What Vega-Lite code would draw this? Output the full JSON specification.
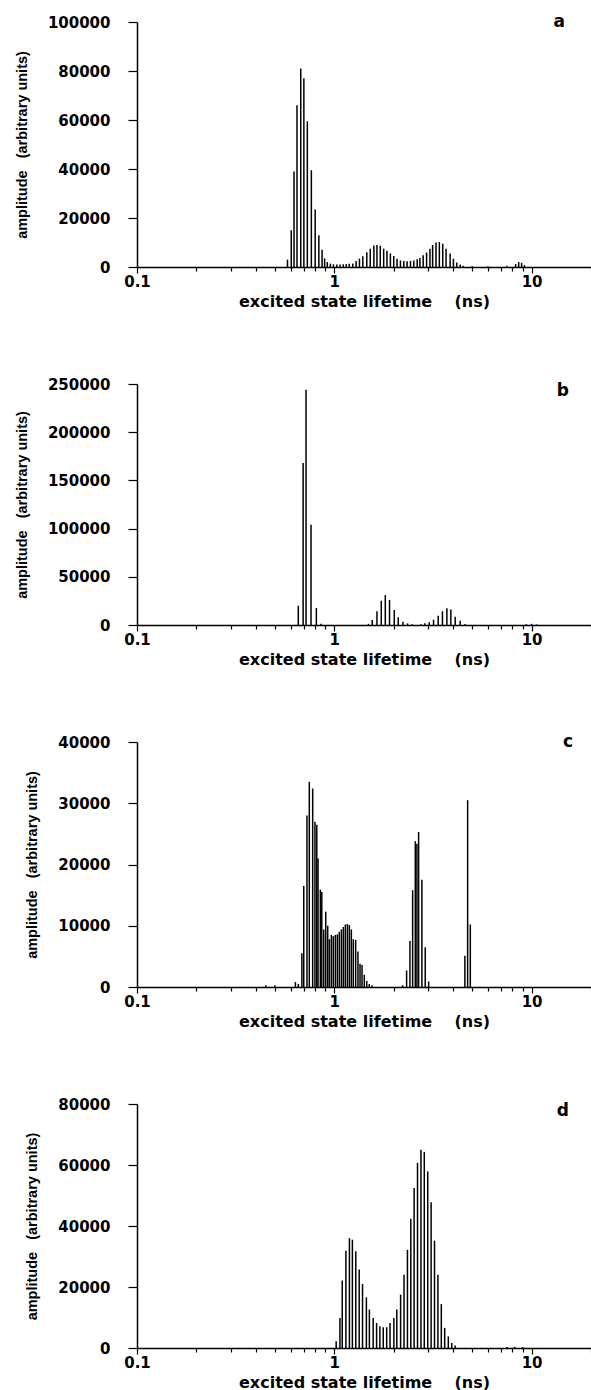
{
  "$schema": "https://vega.github.io/schema/vega-lite/v6.json",
  "background": "white",
  "autosize": {"type": "pad"},
  "padding": {"left": 14, "top": 13, "right": 0, "bottom": 0},
  "bounds": "flush",
  "spacing": 117,
  "config": {
    "view": {"stroke": null},
    "axis": {
      "grid": false,
      "domainColor": "black",
      "domainWidth": 1.5,
      "tickColor": "black",
      "tickWidth": 1.2,
      "labelFont": "DejaVu Sans",
      "labelFontWeight": "bold",
      "labelFontSize": 15,
      "labelColor": "black",
      "titleFont": "DejaVu Sans",
      "titleFontWeight": "bold",
      "titleFontSize": 16,
      "titleColor": "black"
    },
    "axisX": {"labelPadding": 1, "titlePadding": 4, "labelFlush": false, "labelOverlap": false},
    "axisY": {"tickSize": 9, "labelPadding": 18, "titleFont": "Liberation Sans", "titleFontSize": 14.5, "titlePadding": 18, "labelOverlap": false},
    "title": {"font": "DejaVu Sans", "fontWeight": "bold", "fontSize": 17, "color": "black", "anchor": "end", "frame": "group", "dx": -26, "offset": -16}
  },
  "datasets": {
    "a": [
      {"lifetime": 0.579, "amplitude": 3000}, {"lifetime": 0.605, "amplitude": 15000}, {"lifetime": 0.625, "amplitude": 39000},
      {"lifetime": 0.647, "amplitude": 66000}, {"lifetime": 0.676, "amplitude": 81000}, {"lifetime": 0.701, "amplitude": 77000},
      {"lifetime": 0.730, "amplitude": 59500}, {"lifetime": 0.765, "amplitude": 39500}, {"lifetime": 0.800, "amplitude": 23500},
      {"lifetime": 0.835, "amplitude": 13000}, {"lifetime": 0.867, "amplitude": 7000}, {"lifetime": 0.893, "amplitude": 3500},
      {"lifetime": 0.921, "amplitude": 2000}, {"lifetime": 0.955, "amplitude": 1400}, {"lifetime": 0.990, "amplitude": 1100},
      {"lifetime": 1.030, "amplitude": 1000}, {"lifetime": 1.070, "amplitude": 1000}, {"lifetime": 1.110, "amplitude": 1100},
      {"lifetime": 1.150, "amplitude": 1200}, {"lifetime": 1.190, "amplitude": 1300}, {"lifetime": 1.240, "amplitude": 1400},
      {"lifetime": 1.290, "amplitude": 2500}, {"lifetime": 1.341, "amplitude": 3400}, {"lifetime": 1.395, "amplitude": 4400},
      {"lifetime": 1.461, "amplitude": 6000}, {"lifetime": 1.521, "amplitude": 7500}, {"lifetime": 1.587, "amplitude": 8800},
      {"lifetime": 1.645, "amplitude": 9000}, {"lifetime": 1.710, "amplitude": 8700}, {"lifetime": 1.779, "amplitude": 7500},
      {"lifetime": 1.849, "amplitude": 6600}, {"lifetime": 1.924, "amplitude": 5500}, {"lifetime": 2.001, "amplitude": 4500},
      {"lifetime": 2.080, "amplitude": 3400}, {"lifetime": 2.164, "amplitude": 2700}, {"lifetime": 2.250, "amplitude": 2500},
      {"lifetime": 2.339, "amplitude": 2300}, {"lifetime": 2.433, "amplitude": 2500}, {"lifetime": 2.530, "amplitude": 2700},
      {"lifetime": 2.631, "amplitude": 3200}, {"lifetime": 2.716, "amplitude": 3700}, {"lifetime": 2.821, "amplitude": 4800},
      {"lifetime": 2.936, "amplitude": 5900}, {"lifetime": 3.054, "amplitude": 7500}, {"lifetime": 3.150, "amplitude": 9000},
      {"lifetime": 3.277, "amplitude": 10000}, {"lifetime": 3.407, "amplitude": 10200}, {"lifetime": 3.545, "amplitude": 9500},
      {"lifetime": 3.685, "amplitude": 7500}, {"lifetime": 3.863, "amplitude": 5500}, {"lifetime": 4.015, "amplitude": 3400},
      {"lifetime": 4.177, "amplitude": 1800}, {"lifetime": 4.346, "amplitude": 1000}, {"lifetime": 4.500, "amplitude": 500},
      {"lifetime": 5.0, "amplitude": 300}, {"lifetime": 6.0, "amplitude": 300}, {"lifetime": 7.5, "amplitude": 500},
      {"lifetime": 8.3, "amplitude": 1200}, {"lifetime": 8.6, "amplitude": 2000}, {"lifetime": 8.9, "amplitude": 1700},
      {"lifetime": 9.2, "amplitude": 800}
    ],
    "b": [
      {"lifetime": 0.657, "amplitude": 20000}, {"lifetime": 0.695, "amplitude": 168000}, {"lifetime": 0.719, "amplitude": 244000},
      {"lifetime": 0.762, "amplitude": 104000}, {"lifetime": 0.811, "amplitude": 17600}, {"lifetime": 0.856, "amplitude": 1200},
      {"lifetime": 1.49, "amplitude": 1200}, {"lifetime": 1.557, "amplitude": 5200}, {"lifetime": 1.645, "amplitude": 14200},
      {"lifetime": 1.730, "amplitude": 25200}, {"lifetime": 1.813, "amplitude": 31000}, {"lifetime": 1.905, "amplitude": 26000},
      {"lifetime": 2.013, "amplitude": 15600}, {"lifetime": 2.109, "amplitude": 8000}, {"lifetime": 2.228, "amplitude": 3500},
      {"lifetime": 2.351, "amplitude": 1700}, {"lifetime": 2.48, "amplitude": 800},
      {"lifetime": 2.75, "amplitude": 800}, {"lifetime": 2.878, "amplitude": 1700}, {"lifetime": 3.027, "amplitude": 2800},
      {"lifetime": 3.184, "amplitude": 5500}, {"lifetime": 3.362, "amplitude": 9700}, {"lifetime": 3.533, "amplitude": 14200},
      {"lifetime": 3.720, "amplitude": 17300}, {"lifetime": 3.896, "amplitude": 16200}, {"lifetime": 4.100, "amplitude": 8600},
      {"lifetime": 4.345, "amplitude": 4500}, {"lifetime": 4.6, "amplitude": 1000},
      {"lifetime": 9.4, "amplitude": 800}, {"lifetime": 10.0, "amplitude": 1200}, {"lifetime": 10.6, "amplitude": 600}
    ],
    "c": [
      {"lifetime": 0.45, "amplitude": 300}, {"lifetime": 0.5, "amplitude": 300}, {"lifetime": 0.635, "amplitude": 800},
      {"lifetime": 0.657, "amplitude": 500}, {"lifetime": 0.685, "amplitude": 5500}, {"lifetime": 0.700, "amplitude": 16500},
      {"lifetime": 0.727, "amplitude": 28000}, {"lifetime": 0.747, "amplitude": 33500}, {"lifetime": 0.777, "amplitude": 32400},
      {"lifetime": 0.798, "amplitude": 27000}, {"lifetime": 0.815, "amplitude": 26500}, {"lifetime": 0.827, "amplitude": 21000},
      {"lifetime": 0.850, "amplitude": 15900}, {"lifetime": 0.864, "amplitude": 15500}, {"lifetime": 0.884, "amplitude": 9400},
      {"lifetime": 0.905, "amplitude": 12300}, {"lifetime": 0.926, "amplitude": 10000}, {"lifetime": 0.944, "amplitude": 7800},
      {"lifetime": 0.966, "amplitude": 8500}, {"lifetime": 0.988, "amplitude": 8300}, {"lifetime": 1.012, "amplitude": 8500},
      {"lifetime": 1.036, "amplitude": 8600}, {"lifetime": 1.060, "amplitude": 9000}, {"lifetime": 1.086, "amplitude": 9400},
      {"lifetime": 1.111, "amplitude": 9800}, {"lifetime": 1.137, "amplitude": 10200}, {"lifetime": 1.165, "amplitude": 10300},
      {"lifetime": 1.192, "amplitude": 10100}, {"lifetime": 1.220, "amplitude": 9400}, {"lifetime": 1.248, "amplitude": 7800},
      {"lifetime": 1.283, "amplitude": 7700}, {"lifetime": 1.318, "amplitude": 5800}, {"lifetime": 1.350, "amplitude": 3800},
      {"lifetime": 1.382, "amplitude": 3600}, {"lifetime": 1.419, "amplitude": 2000}, {"lifetime": 1.460, "amplitude": 1000},
      {"lifetime": 1.504, "amplitude": 500}, {"lifetime": 1.552, "amplitude": 300},
      {"lifetime": 2.220, "amplitude": 300}, {"lifetime": 2.325, "amplitude": 2700}, {"lifetime": 2.418, "amplitude": 7500},
      {"lifetime": 2.495, "amplitude": 15800}, {"lifetime": 2.573, "amplitude": 23800}, {"lifetime": 2.623, "amplitude": 23400},
      {"lifetime": 2.675, "amplitude": 25300}, {"lifetime": 2.780, "amplitude": 17500}, {"lifetime": 2.890, "amplitude": 6500},
      {"lifetime": 3.008, "amplitude": 900},
      {"lifetime": 4.59, "amplitude": 5100}, {"lifetime": 4.74, "amplitude": 30500}, {"lifetime": 4.89, "amplitude": 10200}
    ],
    "d": [
      {"lifetime": 1.022, "amplitude": 2200}, {"lifetime": 1.068, "amplitude": 9800}, {"lifetime": 1.097, "amplitude": 22100},
      {"lifetime": 1.145, "amplitude": 31900}, {"lifetime": 1.193, "amplitude": 36000}, {"lifetime": 1.235, "amplitude": 35500},
      {"lifetime": 1.285, "amplitude": 31700}, {"lifetime": 1.337, "amplitude": 25700}, {"lifetime": 1.390, "amplitude": 21000},
      {"lifetime": 1.454, "amplitude": 16600}, {"lifetime": 1.506, "amplitude": 12600}, {"lifetime": 1.574, "amplitude": 9800},
      {"lifetime": 1.638, "amplitude": 8200}, {"lifetime": 1.702, "amplitude": 7100}, {"lifetime": 1.770, "amplitude": 6800},
      {"lifetime": 1.843, "amplitude": 6800}, {"lifetime": 1.916, "amplitude": 8200}, {"lifetime": 2.004, "amplitude": 9800},
      {"lifetime": 2.074, "amplitude": 12600}, {"lifetime": 2.168, "amplitude": 17500}, {"lifetime": 2.256, "amplitude": 24000},
      {"lifetime": 2.348, "amplitude": 32200}, {"lifetime": 2.442, "amplitude": 42400}, {"lifetime": 2.538, "amplitude": 52500},
      {"lifetime": 2.641, "amplitude": 60700}, {"lifetime": 2.749, "amplitude": 65000}, {"lifetime": 2.858, "amplitude": 64300},
      {"lifetime": 2.975, "amplitude": 57900}, {"lifetime": 3.095, "amplitude": 47800}, {"lifetime": 3.220, "amplitude": 35200},
      {"lifetime": 3.350, "amplitude": 24000}, {"lifetime": 3.486, "amplitude": 14400}, {"lifetime": 3.626, "amplitude": 6600},
      {"lifetime": 3.783, "amplitude": 3800}, {"lifetime": 3.938, "amplitude": 1600}, {"lifetime": 4.097, "amplitude": 800},
      {"lifetime": 7.5, "amplitude": 300}, {"lifetime": 8.2, "amplitude": 400}, {"lifetime": 9.0, "amplitude": 300}
    ]
  },
  "vconcat": [
    {
      "width": 454, "height": 245,
      "data": {"name": "a"},
      "title": {"text": "a", "dx": -26, "offset": -16},
      "mark": {"type": "rule", "color": "black", "strokeWidth": 1.5},
      "encoding": {
        "x": {"field": "lifetime", "type": "quantitative",
          "scale": {"type": "log", "domain": [0.1, 20], "nice": false},
          "title": "excited state lifetime\u00a0\u00a0\u00a0 (ns)",
          "axis": {"values": [0.1,0.2,0.3,0.4,0.5,0.6,0.7,0.8,0.9,1,2,3,4,5,6,7,8,9,10,20],
            "labelExpr": "datum.value == 0.1 ? '0.1' : datum.value == 1 ? '1' : datum.value == 10 ? '10' : ''",
            "tickSize": {"condition": {"test": "datum.value == 0.1 || datum.value == 1 || datum.value == 10", "value": 6}, "value": 4}}},
        "y": {"field": "amplitude", "type": "quantitative",
          "scale": {"domain": [0, 100000], "nice": false},
          "title": "amplitude\u00a0\u00a0 (arbitrary units)",
          "axis": {"values": [0, 20000, 40000, 60000, 80000, 100000], "format": "d"}},
        "y2": {"datum": 0}
      }
    },
    {
      "width": 454, "height": 241,
      "data": {"name": "b"},
      "title": {"text": "b", "dx": -22, "offset": -23},
      "mark": {"type": "rule", "color": "black", "strokeWidth": 1.5},
      "encoding": {
        "x": {"field": "lifetime", "type": "quantitative",
          "scale": {"type": "log", "domain": [0.1, 20], "nice": false},
          "title": "excited state lifetime\u00a0\u00a0\u00a0 (ns)",
          "axis": {"values": [0.1,0.2,0.3,0.4,0.5,0.6,0.7,0.8,0.9,1,2,3,4,5,6,7,8,9,10,20],
            "labelExpr": "datum.value == 0.1 ? '0.1' : datum.value == 1 ? '1' : datum.value == 10 ? '10' : ''",
            "tickSize": {"condition": {"test": "datum.value == 0.1 || datum.value == 1 || datum.value == 10", "value": 6}, "value": 4}}},
        "y": {"field": "amplitude", "type": "quantitative",
          "scale": {"domain": [0, 250000], "nice": false},
          "title": "amplitude\u00a0\u00a0 (arbitrary units)",
          "axis": {"values": [0, 50000, 100000, 150000, 200000, 250000], "format": "d"}},
        "y2": {"datum": 0}
      }
    },
    {
      "width": 454, "height": 245,
      "data": {"name": "c"},
      "title": {"text": "c", "dx": -18, "offset": -16},
      "mark": {"type": "rule", "color": "black", "strokeWidth": 1.5},
      "encoding": {
        "x": {"field": "lifetime", "type": "quantitative",
          "scale": {"type": "log", "domain": [0.1, 20], "nice": false},
          "title": "excited state lifetime\u00a0\u00a0\u00a0 (ns)",
          "axis": {"values": [0.1,0.2,0.3,0.4,0.5,0.6,0.7,0.8,0.9,1,2,3,4,5,6,7,8,9,10,20],
            "labelExpr": "datum.value == 0.1 ? '0.1' : datum.value == 1 ? '1' : datum.value == 10 ? '10' : ''",
            "tickSize": {"condition": {"test": "datum.value == 0.1 || datum.value == 1 || datum.value == 10", "value": 6}, "value": 4}}},
        "y": {"field": "amplitude", "type": "quantitative",
          "scale": {"domain": [0, 40000], "nice": false},
          "title": "amplitude\u00a0\u00a0 (arbitrary units)",
          "axis": {"values": [0, 10000, 20000, 30000, 40000], "format": "d"}},
        "y2": {"datum": 0}
      }
    },
    {
      "width": 454, "height": 244,
      "data": {"name": "d"},
      "title": {"text": "d", "dx": -22, "offset": -23},
      "mark": {"type": "rule", "color": "black", "strokeWidth": 1.5},
      "encoding": {
        "x": {"field": "lifetime", "type": "quantitative",
          "scale": {"type": "log", "domain": [0.1, 20], "nice": false},
          "title": "excited state lifetime\u00a0\u00a0\u00a0 (ns)",
          "axis": {"values": [0.1,0.2,0.3,0.4,0.5,0.6,0.7,0.8,0.9,1,2,3,4,5,6,7,8,9,10,20],
            "labelExpr": "datum.value == 0.1 ? '0.1' : datum.value == 1 ? '1' : datum.value == 10 ? '10' : ''",
            "tickSize": {"condition": {"test": "datum.value == 0.1 || datum.value == 1 || datum.value == 10", "value": 6}, "value": 4}}},
        "y": {"field": "amplitude", "type": "quantitative",
          "scale": {"domain": [0, 80000], "nice": false},
          "title": "amplitude\u00a0\u00a0 (arbitrary units)",
          "axis": {"values": [0, 20000, 40000, 60000, 80000], "format": "d"}},
        "y2": {"datum": 0}
      }
    }
  ]
}
